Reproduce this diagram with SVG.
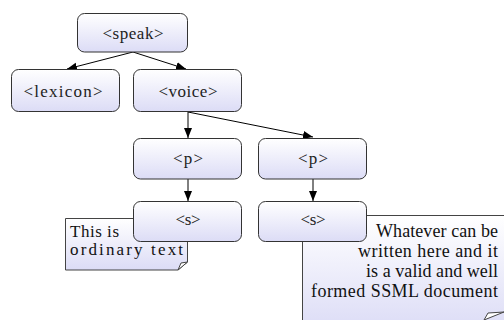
<svg xmlns="http://www.w3.org/2000/svg" width="504" height="320" viewBox="0 0 504 320">
<defs>
<linearGradient id="g" x1="0" y1="0" x2="0" y2="1">
<stop offset="0" stop-color="#ffffff"/>
<stop offset="1" stop-color="#dcdcf6"/>
</linearGradient>
<marker id="ah" viewBox="0 0 10 10" refX="10" refY="5" markerWidth="10" markerHeight="10" markerUnits="userSpaceOnUse" orient="auto">
<path d="M0,1 L10,5 L0,9 Z" fill="#000"/>
</marker>
</defs>
<style>
.box{fill:url(#g);stroke:#333;stroke-width:1}
.note{fill:url(#g);stroke:#444;stroke-width:1}
.lbl{font-family:"Liberation Serif","Times New Roman",serif;font-size:17px;fill:#222;text-anchor:middle}
.nt{font-family:"Liberation Serif","Times New Roman",serif;font-size:17px;fill:#111}
.nt2{font-family:"Liberation Serif","Times New Roman",serif;font-size:18px;fill:#111;text-anchor:end}
.c{stroke:#000;stroke-width:1;fill:none;marker-end:url(#ah)}
</style>
<g id="note1">
<path class="note" d="M65.5,218.5 H187.5 V262 L178,270 H65.5 Z"/>
<path d="M187.5,262 L178,270 L181,263 Z" fill="#fff" stroke="#444" stroke-width="1"/>
<text class="nt" x="70" y="237" textLength="49" lengthAdjust="spacing">This is</text>
<text class="nt" x="70" y="255" textLength="113" lengthAdjust="spacing">ordinary text</text>
</g>
<g id="note2">
<path class="note" d="M302.5,215.5 H510 V330 H302.5 Z"/>
<path d="M504,312 L484,320 L488,313 Z" fill="#fff" stroke="#444" stroke-width="1"/>
<text class="nt2" x="498" y="237" textLength="122" lengthAdjust="spacing">Whatever can be</text>
<text class="nt2" x="498" y="257" textLength="140" lengthAdjust="spacing">written here and it</text>
<text class="nt2" x="498" y="277" textLength="132" lengthAdjust="spacing">is a valid and well</text>
<text class="nt2" x="498" y="297" textLength="187" lengthAdjust="spacing">formed SSML document</text>
</g>
<g id="connectors">
<line class="c" x1="133" y1="52" x2="67" y2="69"/>
<line class="c" x1="133" y1="52" x2="186" y2="69"/>
<line class="c" x1="188" y1="112" x2="188" y2="138"/>
<line class="c" x1="188" y1="112" x2="313" y2="137"/>
<line class="c" x1="188" y1="179" x2="188" y2="201"/>
<line class="c" x1="313" y1="179" x2="313" y2="201"/>
</g>
<g id="speak">
<rect class="box" x="77.5" y="13.5" width="110" height="38.5" rx="7"/>
<text class="lbl" x="133" y="39" textLength="61" lengthAdjust="spacing">&lt;speak&gt;</text>
</g>
<g id="lexicon">
<rect class="box" x="11.5" y="69.5" width="108" height="42" rx="7"/>
<text class="lbl" x="63" y="97" textLength="79" lengthAdjust="spacing">&lt;lexicon&gt;</text>
</g>
<g id="voice">
<rect class="box" x="133.5" y="69.5" width="108" height="42" rx="7"/>
<text class="lbl" x="188" y="97" textLength="59" lengthAdjust="spacing">&lt;voice&gt;</text>
</g>
<g id="p1">
<rect class="box" x="133.5" y="138.5" width="108" height="40.5" rx="7"/>
<text class="lbl" x="188" y="164" textLength="30" lengthAdjust="spacing">&lt;p&gt;</text>
</g>
<g id="p2">
<rect class="box" x="258.5" y="138.5" width="108" height="40.5" rx="7"/>
<text class="lbl" x="313" y="164" textLength="30" lengthAdjust="spacing">&lt;p&gt;</text>
</g>
<g id="s1">
<rect class="box" x="133.5" y="201.5" width="108" height="40" rx="7"/>
<text class="lbl" x="188" y="225" textLength="25" lengthAdjust="spacing">&lt;s&gt;</text>
</g>
<g id="s2">
<rect class="box" x="258.5" y="201.5" width="108" height="40" rx="7"/>
<text class="lbl" x="313" y="225" textLength="25" lengthAdjust="spacing">&lt;s&gt;</text>
</g>
</svg>
